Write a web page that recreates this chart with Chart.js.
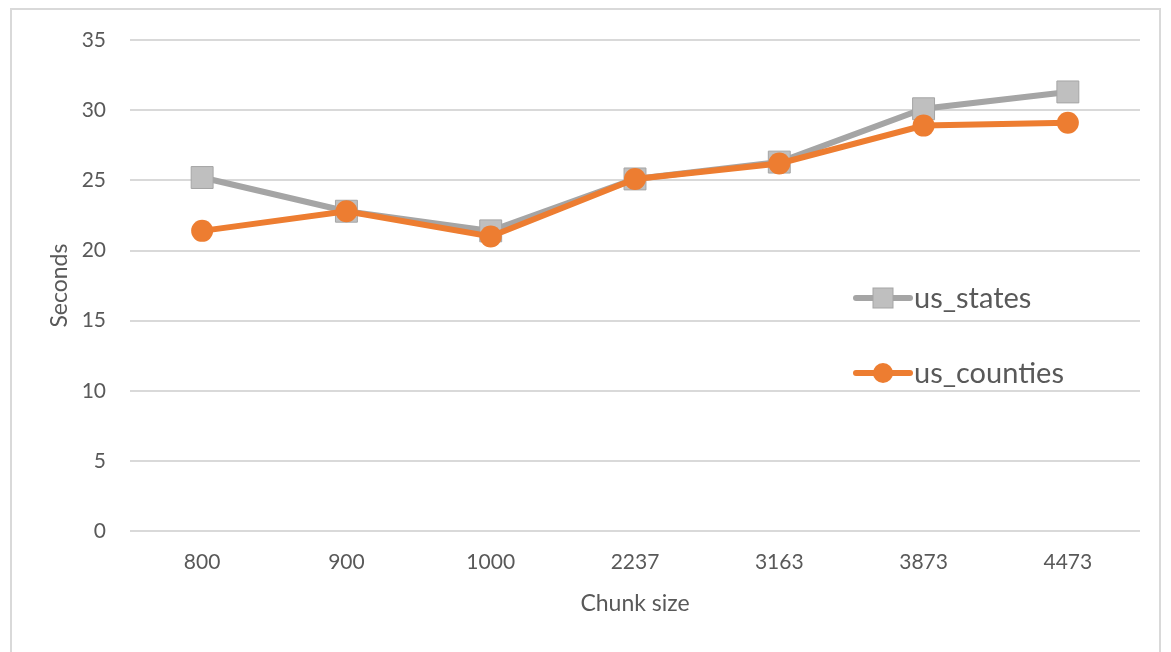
<!DOCTYPE html>
<html>
<head>
<meta charset="utf-8">
<script src="https://cdn.jsdelivr.net/npm/chart.js@4/dist/chart.umd.min.js"></script>
<style>
  html, body { margin: 0; padding: 0; background: #ffffff; overflow: hidden; }
  #frame {
    position: absolute; left: 10px; top: 8px; width: 1151px; height: 700px;
    border: 2px solid #d9d9d9; box-sizing: border-box;
  }
  #wrap { position: absolute; left: 0; top: 0; width: 1171px; height: 652px; }
</style>
</head>
<body>
<div id="frame"></div>
<div id="wrap"><canvas id="chart" width="1171" height="652"></canvas></div>
<script>
// Run time (seconds) per chunk size
const chunkSizes = ['800', '900', '1000', '2237', '3163', '3873', '4473'];
const usStates   = [25.2, 22.8, 21.4, 25.1, 26.3, 30.1, 31.3];
const usCounties = [21.4, 22.8, 21.0, 25.1, 26.2, 28.9, 29.1];
const yTicks     = [0, 5, 10, 15, 20, 25, 30, 35];

const FONT = 'Lato, "Open Sans", sans-serif';
const TEXT = '#595959';

// Legend drawn inside the plot area, to the right
const insideLegend = {
  id: 'insideLegend',
  afterDatasetsDraw(chart) {
    const ctx = chart.ctx;
    const items = [
      { ds: chart.data.datasets[0], y: 298 },
      { ds: chart.data.datasets[1], y: 373 }
    ];
    ctx.save();
    items.forEach(({ ds, y }) => {
      const x0 = 856, x1 = 910, xm = (x0 + x1) / 2;
      ctx.strokeStyle = ds.borderColor;
      ctx.lineWidth = 6;
      ctx.lineCap = 'round';
      ctx.beginPath(); ctx.moveTo(x0, y); ctx.lineTo(x1, y); ctx.stroke();
      ctx.fillStyle = ds.pointBackgroundColor;
      ctx.strokeStyle = ds.pointBorderColor;
      ctx.lineWidth = 1;
      if (ds.pointStyle === 'rect') {
        ctx.fillRect(xm - 10, y - 10, 20, 20);
        ctx.strokeRect(xm - 10, y - 10, 20, 20);
      } else {
        ctx.beginPath(); ctx.arc(xm, y, 10, 0, Math.PI * 2); ctx.fill();
      }
      ctx.fillStyle = TEXT;
      ctx.font = '29px ' + FONT;
      ctx.textAlign = 'left';
      ctx.textBaseline = 'middle';
      ctx.fillText(ds.label, x1 + 4, y + 1);
    });
    ctx.restore();
  }
};

new Chart(document.getElementById('chart'), {
  type: 'line',
  data: {
    labels: chunkSizes,
    datasets: [
      {
        label: 'us_states',
        data: usStates,
        borderColor: '#a5a5a5',
        borderWidth: 6,
        pointStyle: 'rect',
        pointRadius: 15.5,
        pointHoverRadius: 15.5,
        pointBackgroundColor: '#bfbfbf',
        pointBorderColor: '#a5a5a5',
        pointBorderWidth: 1,
        tension: 0,
        order: 2
      },
      {
        label: 'us_counties',
        data: usCounties,
        borderColor: '#ed7d31',
        borderWidth: 6,
        pointStyle: 'circle',
        pointRadius: 11,
        pointHoverRadius: 11,
        pointBackgroundColor: '#ed7d31',
        pointBorderColor: '#ed7d31',
        pointBorderWidth: 0,
        tension: 0,
        order: 1
      }
    ]
  },
  options: {
    responsive: false,
    animation: false,
    layout: { padding: { left: 46, right: 31, top: 40, bottom: 35 } },
    plugins: {
      legend: { display: false },
      tooltip: { enabled: false }
    },
    scales: {
      x: {
        offset: true,
        grid: { display: false, drawTicks: false },
        border: { display: false },
        ticks: { color: TEXT, font: { family: FONT, size: 21 }, padding: 18 },
        title: { display: true, text: 'Chunk size', color: TEXT, font: { family: FONT, size: 23 }, padding: { top: -3, bottom: 0 } }
      },
      y: {
        min: 0,
        max: 35,
        afterBuildTicks(scale) { scale.ticks = yTicks.map(v => ({ value: v })); },
        afterFit(scale) { scale.width = 84; },
        grid: { color: '#d9d9d9', lineWidth: 2, drawTicks: false },
        border: { display: false },
        ticks: { color: TEXT, font: { family: FONT, size: 21 }, padding: 24 },
        title: { display: true, text: 'Seconds', color: TEXT, font: { family: FONT, size: 23 }, padding: 0 }
      }
    }
  },
  plugins: [insideLegend]
});
</script>
</body>
</html>
